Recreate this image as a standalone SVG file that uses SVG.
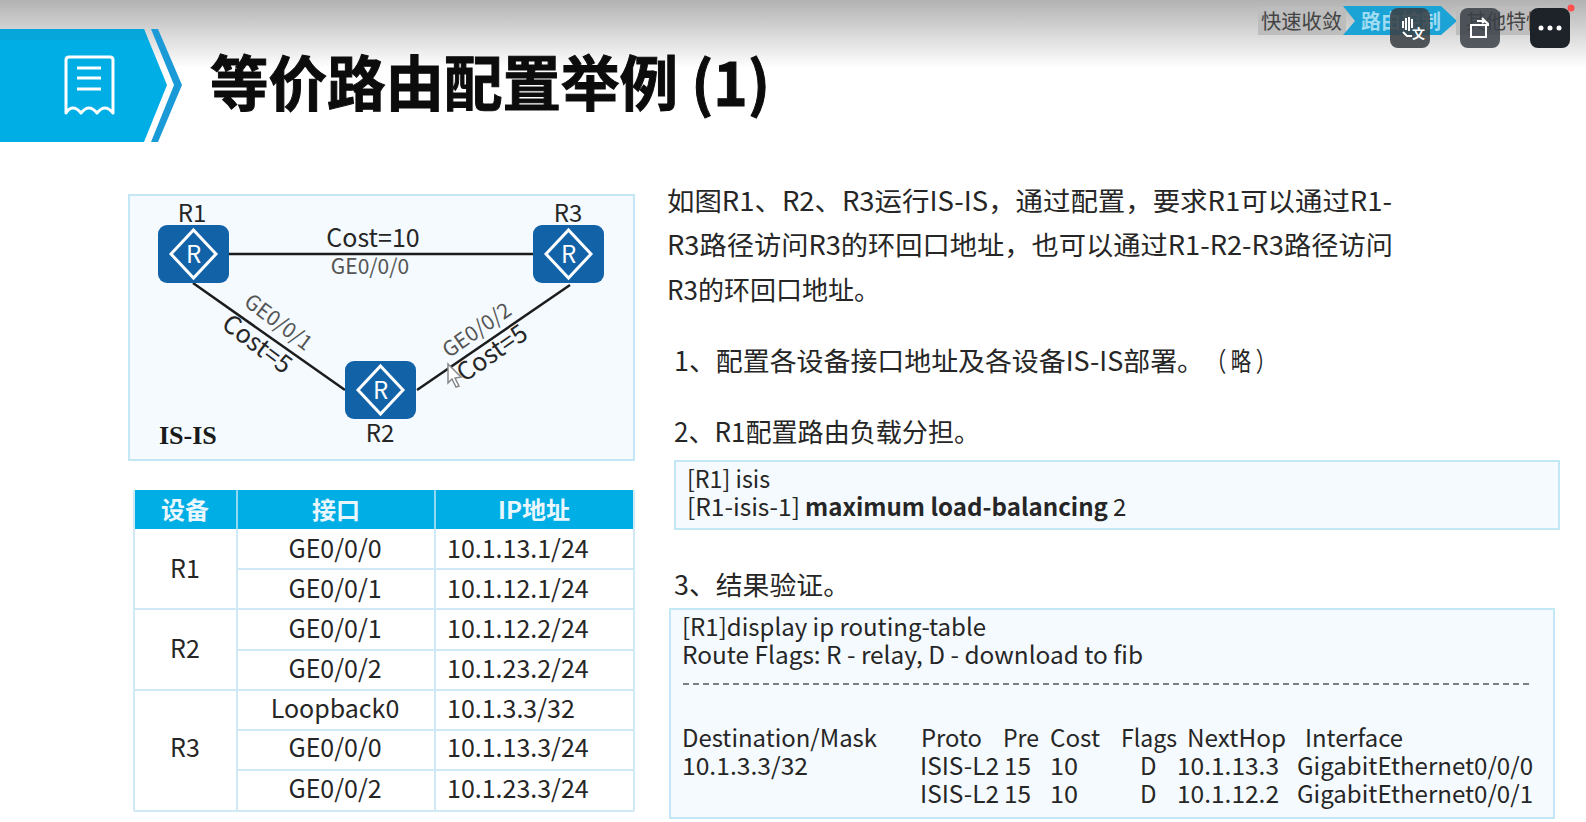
<svg xmlns="http://www.w3.org/2000/svg" width="1586" height="822" viewBox="0 0 1586 822">
<style>
text{font-family:"Noto Sans CJK SC","Noto Sans",sans-serif;fill:#262626}
.t{font-size:25px;text-anchor:middle}
.l{font-size:25px}
.b{font-size:26.5px}
.c{font-size:24px}
.lbl{font-size:25px;text-anchor:middle}
.nm{font-size:24px;text-anchor:middle}
.gl{font-size:21px;fill:#555;text-anchor:middle}
.h{font-size:24px;font-weight:700;fill:#e9f7fd;text-anchor:middle}
.grid{stroke:#cfeaf6;stroke-width:2;fill:none}
.link{stroke:#1c1c1c;stroke-width:2.5;fill:none}
.box{fill:#1262a8}
.dia{fill:none;stroke:#fff;stroke-width:3}
.r{font-size:24px;fill:#fff;text-anchor:middle}
.panel{fill:#f4fafe;stroke:#c4e7f5;stroke-width:2}
.ic{fill:#1d2329}
.icw{fill:none;stroke:#fff;stroke-width:2}
</style>
<defs>
<linearGradient id="top" x1="0" y1="0" x2="0" y2="1"><stop offset="0" stop-color="#b2b2b2"/><stop offset="1" stop-color="#ffffff"/></linearGradient>
<g id="router"><rect class="box" width="71" height="58" rx="9"/><path class="dia" d="M35.500 5 L58 29 L35.500 53 L13 29 Z"/><text class="r" x="35.500" y="37.500">R</text></g>
</defs>
<rect width="1586" height="822" fill="#fff"/>
<rect id="top-shade" width="1586" height="68" fill="url(#top)"/>

<g id="banner">
<path d="M0 29H144L167 85L144 142H0Z" fill="#00aee6"/>
<path d="M0 29H144L148 40H0Z" fill="#0a9fd2" opacity=".6"/>
<path d="M151 29H158L182 85L158 142H151L174 85Z" fill="#1a9bd7"/>
<path d="M66 60Q66 57 69 57H110Q113 57 113 60V113Q109 108 105 108Q101 108 97 113Q93 108 89 108Q85 108 81 113Q77 108 73 108Q69 108 66 113Z" fill="none" stroke="#fff" stroke-width="3" stroke-linejoin="round"/>
<path d="M77 68H101M77 78H101M77 89H101" stroke="#fff" stroke-width="3"/>
</g>
<text id="title" x="210" y="106" font-size="60" font-weight="700" textLength="560" lengthAdjust="spacingAndGlyphs" style="fill:#0c0c0c;stroke:#0c0c0c;stroke-width:1">等价路由配置举例 (1)</text>

<g id="nav">
<rect x="1258" y="7" width="88" height="28" fill="#bdbdbd"/>
<text x="1261" y="29" font-size="20" textLength="81" lengthAdjust="spacingAndGlyphs" style="fill:#444">快速收敛</text>
<path d="M1343 6H1441L1457 21L1441 35H1343L1355 21Z" fill="#1ba3d6"/>
<text x="1361" y="29" font-size="20" font-weight="700" textLength="80" lengthAdjust="spacingAndGlyphs" style="fill:#9fdcf2">路由控制</text>
<rect x="1456" y="7" width="90" height="28" fill="#bdbdbd"/>
<text x="1466" y="29" font-size="20" textLength="80" lengthAdjust="spacingAndGlyphs" style="fill:#444">其他特性</text>
</g>
<g id="overlay-buttons">
<rect x="1390" y="8" width="40" height="40" rx="8" fill="#3a4046" opacity=".88"/>
<path d="M1403 21V28M1406 18V30M1409 17V31M1412 19V28" stroke="#fff" stroke-width="2"/>
<path d="M1403 32L1407 36H1412" class="icw"/>
<text x="1412" y="38" font-size="13" font-weight="700" style="fill:#fff">文</text>
<rect x="1460" y="8" width="40" height="40" rx="8" fill="#3a4046" opacity=".85"/>
<rect x="1471" y="25" width="15" height="12" class="icw"/>
<path d="M1477 21H1485L1488 24V26M1482 18L1485 21L1482 23" class="icw"/>
<rect x="1530" y="8" width="40" height="40" rx="8" class="ic"/>
<circle cx="1541" cy="28" r="2.500" fill="#fff"/><circle cx="1550" cy="28" r="2.500" fill="#fff"/><circle cx="1559" cy="28" r="2.500" fill="#fff"/>
<circle cx="1571" cy="8" r="3.500" fill="#ff5050"/>
</g>

<rect id="topology-panel" class="panel" x="129" y="195" width="505" height="265"/>
<g id="connectors">
<path class="link" d="M228 254H533"/>
<path class="link" d="M193 283L345 390"/>
<path class="link" d="M417 390L570 285"/>
</g>
<g id="R1"><use href="#router" x="158" y="225"/><text class="nm" x="192" y="222">R1</text></g>
<g id="R3"><use href="#router" x="533" y="225"/><text class="nm" x="568" y="222">R3</text></g>
<g id="R2"><use href="#router" x="345" y="361"/><text class="nm" x="380" y="442">R2</text></g>
<text class="lbl" x="373" y="247">Cost=10</text>
<text class="gl" x="370" y="274">GE0/0/0</text>
<text class="gl" transform="translate(274 328) rotate(37)" x="0" y="0">GE0/0/1</text>
<text class="lbl" transform="translate(252 351) rotate(37)" x="0" y="0">Cost=5</text>
<text class="gl" transform="translate(481 336) rotate(-35)" x="0" y="0">GE0/0/2</text>
<text class="lbl" transform="translate(497 360) rotate(-35)" x="0" y="0">Cost=5</text>
<path id="cursor" d="M448 364L448 383L452 379L456 387L459 386L455 378L461 377Z" fill="#fff" stroke="#888" stroke-width="1.500"/>
<text x="159" y="444" font-size="26" font-weight="700" style="font-family:'Liberation Serif',serif;fill:#1a1a1a">IS-IS</text>

<g id="table">
<rect x="134" y="490" width="500" height="39" fill="#00aee6"/>
<path class="grid" d="M237 490V811M435 490V811M134 490V811M634 490V811M134 811H634M237 569H634M134 609H634M237 650H634M134 690H634M237 730H634M237 770H634"/>
<path d="M237 490V529M435 490V529" stroke="#7dd3f0" stroke-width="1.500"/>
<text class="h" x="185" y="519">设备</text>
<text class="h" x="336" y="519">接口</text>
<text class="h" x="534" y="519">IP地址</text>
<text class="t" x="185" y="578">R1</text>
<text class="t" x="185" y="658">R2</text>
<text class="t" x="185" y="757">R3</text>
<text class="t" x="335" y="558">GE0/0/0</text>
<text class="t" x="335" y="598">GE0/0/1</text>
<text class="t" x="335" y="638">GE0/0/1</text>
<text class="t" x="335" y="678">GE0/0/2</text>
<text class="t" x="335" y="718">Loopback0</text>
<text class="t" x="335" y="757">GE0/0/0</text>
<text class="t" x="335" y="798">GE0/0/2</text>
<text class="l" x="447" y="558">10.1.13.1/24</text>
<text class="l" x="447" y="598">10.1.12.1/24</text>
<text class="l" x="447" y="638">10.1.12.2/24</text>
<text class="l" x="447" y="678">10.1.23.2/24</text>
<text class="l" x="447" y="718">10.1.3.3/32</text>
<text class="l" x="447" y="757">10.1.13.3/24</text>
<text class="l" x="447" y="798">10.1.23.3/24</text>
</g>

<g id="description">
<text class="b" x="667" y="211" textLength="725" lengthAdjust="spacingAndGlyphs">如图R1、R2、R3运行IS-IS，通过配置，要求R1可以通过R1-</text>
<text class="b" x="667" y="255" textLength="726" lengthAdjust="spacingAndGlyphs">R3路径访问R3的环回口地址，也可以通过R1-R2-R3路径访问</text>
<text class="b" x="667" y="300" textLength="213" lengthAdjust="spacingAndGlyphs">R3的环回口地址。</text>
<text class="b" x="674" y="371" textLength="530" lengthAdjust="spacingAndGlyphs">1、配置各设备接口地址及各设备IS-IS部署。</text>
<text class="b" x="1206" y="371" xml:space="preserve" textLength="70" lengthAdjust="spacingAndGlyphs">（ 略 ）</text>
<text class="b" x="674" y="442" textLength="306" lengthAdjust="spacingAndGlyphs">2、R1配置路由负载分担。</text>
<text class="b" x="674" y="595" textLength="176" lengthAdjust="spacingAndGlyphs">3、结果验证。</text>
</g>

<g id="cmd1">
<rect class="panel" x="675" y="461" width="884" height="68"/>
<text class="c" x="687" y="488" textLength="83" lengthAdjust="spacingAndGlyphs">[R1] isis</text>
<text class="c" x="687" y="516" textLength="113" lengthAdjust="spacingAndGlyphs">[R1-isis-1]</text>
<text class="c" x="805" y="516" font-weight="700" textLength="303" lengthAdjust="spacingAndGlyphs">maximum load-balancing</text>
<text class="c" x="1113" y="516">2</text>
</g>

<g id="cmd2">
<rect class="panel" x="670" y="609" width="884" height="209"/>
<text class="c" x="682" y="636" textLength="304" lengthAdjust="spacingAndGlyphs">[R1]display ip routing-table</text>
<text class="c" x="682" y="664" textLength="461" lengthAdjust="spacingAndGlyphs">Route Flags: R - relay, D - download to fib</text>
<path d="M683 684H1532" stroke="#555" stroke-width="1.500" stroke-dasharray="6 4"/>
<text class="c" x="682" y="747" textLength="195" lengthAdjust="spacingAndGlyphs">Destination/Mask</text>
<text class="c" x="921" y="747" textLength="61" lengthAdjust="spacingAndGlyphs">Proto</text>
<text class="c" x="1003" y="747" textLength="36" lengthAdjust="spacingAndGlyphs">Pre</text>
<text class="c" x="1050" y="747" textLength="50" lengthAdjust="spacingAndGlyphs">Cost</text>
<text class="c" x="1121" y="747" textLength="56" lengthAdjust="spacingAndGlyphs">Flags</text>
<text class="c" x="1187" y="747" textLength="99" lengthAdjust="spacingAndGlyphs">NextHop</text>
<text class="c" x="1305" y="747" textLength="98" lengthAdjust="spacingAndGlyphs">Interface</text>
<text class="c" x="682" y="775" textLength="126" lengthAdjust="spacingAndGlyphs">10.1.3.3/32</text>
<text class="c" x="920" y="775" textLength="79" lengthAdjust="spacingAndGlyphs">ISIS-L2</text>
<text class="c" x="1004" y="775" textLength="27" lengthAdjust="spacingAndGlyphs">15</text>
<text class="c" x="1050" y="775" textLength="28" lengthAdjust="spacingAndGlyphs">10</text>
<text class="c" x="1140" y="775">D</text>
<text class="c" x="1177" y="775" textLength="102" lengthAdjust="spacingAndGlyphs">10.1.13.3</text>
<text class="c" x="1297" y="775" textLength="236" lengthAdjust="spacingAndGlyphs">GigabitEthernet0/0/0</text>
<text class="c" x="920" y="803" textLength="79" lengthAdjust="spacingAndGlyphs">ISIS-L2</text>
<text class="c" x="1004" y="803" textLength="27" lengthAdjust="spacingAndGlyphs">15</text>
<text class="c" x="1050" y="803" textLength="28" lengthAdjust="spacingAndGlyphs">10</text>
<text class="c" x="1140" y="803">D</text>
<text class="c" x="1177" y="803" textLength="102" lengthAdjust="spacingAndGlyphs">10.1.12.2</text>
<text class="c" x="1297" y="803" textLength="236" lengthAdjust="spacingAndGlyphs">GigabitEthernet0/0/1</text>
</g>
</svg>
